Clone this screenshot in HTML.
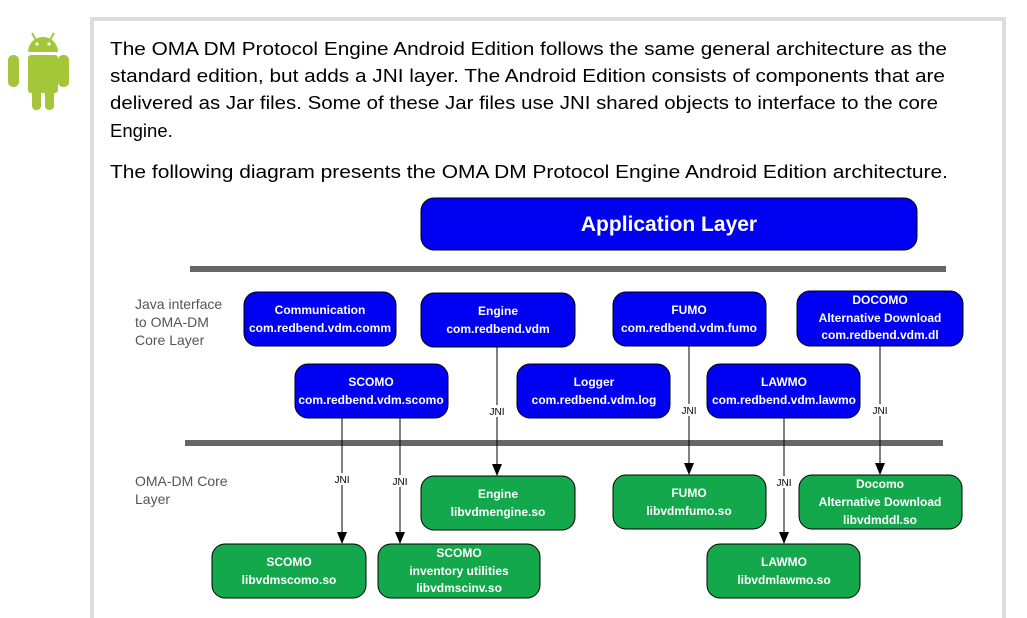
<!DOCTYPE html>
<html><head><meta charset="utf-8"><style>
html,body{margin:0;padding:0;background:#fff;}
svg{display:block;}
</style></head><body>
<svg width="1027" height="618" viewBox="0 0 1027 618" xmlns="http://www.w3.org/2000/svg">
<!-- frame -->
<rect x="92" y="19" width="912" height="620" fill="none" stroke="#dcdcdc" stroke-width="4"/>
<!-- android -->
<g fill="#a4c639">
<path d="M28,52 A15,15 0 0 1 58,52 Z"/>
<line x1="32" y1="33" x2="36" y2="40" stroke="#a4c639" stroke-width="2"/>
<line x1="54" y1="33" x2="50" y2="40" stroke="#a4c639" stroke-width="2"/>
<rect x="28" y="55" width="30" height="38" rx="3"/>
<rect x="8" y="55" width="11" height="32" rx="5"/>
<rect x="58" y="55" width="11" height="32" rx="5"/>
<rect x="32" y="88" width="9" height="22" rx="4"/>
<rect x="45" y="88" width="9" height="22" rx="4"/>
</g>
<circle cx="37" cy="44" r="1.6" fill="#fff"/><circle cx="49" cy="44" r="1.6" fill="#fff"/>
<!-- paragraph -->
<g font-family="Liberation Sans, sans-serif" font-size="18.5" fill="#000">
<text x="110" y="55" textLength="837" lengthAdjust="spacingAndGlyphs">The OMA DM Protocol Engine Android Edition follows the same general architecture as the</text>
<text x="110" y="82" textLength="835" lengthAdjust="spacingAndGlyphs">standard edition, but adds a JNI layer. The Android Edition consists of components that are</text>
<text x="110" y="109" textLength="828" lengthAdjust="spacingAndGlyphs">delivered as Jar files. Some of these Jar files use JNI shared objects to interface to the core</text>
<text x="110" y="137">Engine.</text>
<text x="110" y="178" textLength="838" lengthAdjust="spacingAndGlyphs">The following diagram presents the OMA DM Protocol Engine Android Edition architecture.</text>
</g>
<!-- app layer -->
<rect x="421" y="198" width="496" height="52" rx="13" fill="#0000f2" stroke="#000" stroke-width="1"/>
<text x="669" y="231" text-anchor="middle" font-family="Liberation Sans, sans-serif" font-weight="bold" font-size="21" fill="#fff">Application Layer</text>
<!-- bars -->
<rect x="190" y="266" width="756" height="6" fill="#666"/>
<rect x="185" y="440" width="758" height="6" fill="#666"/>
<!-- side labels -->
<g font-family="Liberation Sans, sans-serif" font-size="14" fill="#555">
<text x="135" y="309">Java interface</text>
<text x="135" y="327">to OMA-DM</text>
<text x="135" y="345">Core Layer</text>
<text x="135" y="486">OMA-DM Core</text>
<text x="135" y="504">Layer</text>
</g>
<!-- connectors -->
<g stroke="#000" stroke-width="1">
<line x1="497" y1="347" x2="497" y2="468"/>
<line x1="342" y1="418" x2="342" y2="536"/>
<line x1="400" y1="418" x2="400" y2="536"/>
<line x1="689" y1="346" x2="689" y2="467"/>
<line x1="784" y1="418" x2="784" y2="536"/>
<line x1="880" y1="346" x2="880" y2="467"/>
</g>
<g fill="#000">
<path d="M492,464 L502,464 L497,476 Z"/>
<path d="M337,532 L347,532 L342,544 Z"/>
<path d="M395,532 L405,532 L400,544 Z"/>
<path d="M684,463 L694,463 L689,475 Z"/>
<path d="M779,532 L789,532 L784,544 Z"/>
<path d="M875,463 L885,463 L880,475 Z"/>
</g>
<g font-family="Liberation Sans, sans-serif" font-size="10" text-anchor="middle" fill="#000">
<rect x="488" y="405" width="18" height="12" fill="#fff"/><text x="497" y="415">JNI</text>
<rect x="333" y="473" width="18" height="12" fill="#fff"/><text x="342" y="483">JNI</text>
<rect x="391" y="475" width="18" height="12" fill="#fff"/><text x="400" y="485">JNI</text>
<rect x="680" y="404" width="18" height="12" fill="#fff"/><text x="689" y="414">JNI</text>
<rect x="775" y="476" width="18" height="12" fill="#fff"/><text x="784" y="486">JNI</text>
<rect x="871" y="404" width="18" height="12" fill="#fff"/><text x="880" y="414">JNI</text>
</g>
<!-- blue boxes -->
<g fill="#0000f2" stroke="#000" stroke-width="1">
<rect x="244" y="292" width="152" height="54" rx="13"/>
<rect x="421" y="293" width="154" height="54" rx="13"/>
<rect x="613" y="292" width="153" height="54" rx="13"/>
<rect x="797" y="291" width="166" height="55" rx="13"/>
<rect x="295" y="364" width="153" height="54" rx="13"/>
<rect x="517" y="364" width="153" height="54" rx="13"/>
<rect x="707" y="364" width="153" height="54" rx="13"/>
</g>
<!-- green boxes -->
<g fill="#13a84c" stroke="#000" stroke-width="1">
<rect x="421" y="476" width="154" height="54" rx="13"/>
<rect x="613" y="475" width="153" height="54" rx="13"/>
<rect x="799" y="475" width="163" height="54" rx="13"/>
<rect x="212" y="544" width="154" height="54" rx="13"/>
<rect x="378" y="544" width="162" height="54" rx="13"/>
<rect x="707" y="544" width="153" height="54" rx="13"/>
</g>
<g font-family="Liberation Sans, sans-serif" font-weight="bold" font-size="12" text-anchor="middle" fill="#fff">
<text x="320" y="314">Communication</text><text x="320" y="332">com.redbend.vdm.comm</text>
<text x="498" y="315">Engine</text><text x="498" y="333">com.redbend.vdm</text>
<text x="689" y="314">FUMO</text><text x="689" y="332">com.redbend.vdm.fumo</text>
<text x="880" y="304">DOCOMO</text><text x="880" y="322">Alternative Download</text><text x="880" y="339">com.redbend.vdm.dl</text>
<text x="371" y="386">SCOMO</text><text x="371" y="404">com.redbend.vdm.scomo</text>
<text x="594" y="386">Logger</text><text x="594" y="404">com.redbend.vdm.log</text>
<text x="784" y="386">LAWMO</text><text x="784" y="404">com.redbend.vdm.lawmo</text>
<text x="498" y="498">Engine</text><text x="498" y="516">libvdmengine.so</text>
<text x="689" y="497">FUMO</text><text x="689" y="515">libvdmfumo.so</text>
<text x="880" y="488">Docomo</text><text x="880" y="506">Alternative Download</text><text x="880" y="524">libvdmddl.so</text>
<text x="289" y="566">SCOMO</text><text x="289" y="584">libvdmscomo.so</text>
<text x="459" y="557">SCOMO</text><text x="459" y="575">inventory utilities</text><text x="459" y="592">libvdmscinv.so</text>
<text x="784" y="566">LAWMO</text><text x="784" y="584">libvdmlawmo.so</text>
</g>
</svg>
</body></html>
